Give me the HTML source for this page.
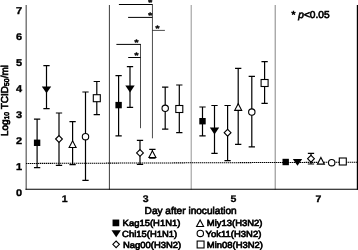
<!DOCTYPE html>
<html><head><meta charset="utf-8"><title>Figure</title>
<style>
html,body{margin:0;padding:0;background:#fff;}
body{width:358px;height:250px;overflow:hidden;}
svg{display:block;}
text{font-family:"Liberation Sans",sans-serif;fill:#000;text-rendering:geometricPrecision;}
</style></head><body>
<svg width="358" height="250" viewBox="0 0 358 250">
<rect width="358" height="250" fill="#fff"/>

<g stroke-linecap="butt" fill="none">
<line x1="26.2" y1="5" x2="26.2" y2="189.7" stroke="#666" stroke-width="1.3"/>
<line x1="109.4" y1="5" x2="109.4" y2="189.7" stroke="#333" stroke-width="0.95"/>
<line x1="191.2" y1="5" x2="191.2" y2="189.7" stroke="#888" stroke-width="0.9"/>
<line x1="275.2" y1="5" x2="275.2" y2="189.7" stroke="#777" stroke-width="0.9"/>
<line x1="357.4" y1="5" x2="357.4" y2="189.7" stroke="#000" stroke-width="1.2"/>
<line x1="25.5" y1="189.2" x2="358" y2="189.2" stroke="#000" stroke-width="1.1"/>
<line x1="26" y1="163.45" x2="358" y2="162.2" stroke="#000" stroke-width="1.05" stroke-dasharray="1.4 0.6"/>
</g>
<g stroke="#000" fill="none">
<line x1="118.9" y1="4.5" x2="152.4" y2="4.5" stroke-width="1"/>
<line x1="128.1" y1="17.4" x2="152.4" y2="17.4" stroke-width="1"/>
<line x1="116.4" y1="44.4" x2="140.8" y2="44.4" stroke-width="1"/>
<line x1="128.2" y1="57.5" x2="140.8" y2="57.5" stroke-width="1"/>
<line x1="152.4" y1="30.4" x2="164.9" y2="30.4" stroke="#000" stroke-width="0.7"/>
<line x1="152.45" y1="4.1" x2="152.45" y2="138.3" stroke="#111" stroke-width="0.75"/>
<line x1="140.5" y1="44" x2="140.5" y2="128.2" stroke="#111" stroke-width="0.75"/>
</g>
<text transform="translate(150.2 5.4) scale(1.35 1.05)" font-size="7.5" font-weight="bold" text-anchor="middle" stroke="#000" stroke-width="0.4">*</text>
<text transform="translate(150.2 18) scale(1.35 1.05)" font-size="7.5" font-weight="bold" text-anchor="middle" stroke="#000" stroke-width="0.4">*</text>
<text transform="translate(157.5 30.6) scale(1.35 1.05)" font-size="7.5" font-weight="bold" text-anchor="middle" stroke="#000" stroke-width="0.4">*</text>
<text transform="translate(136.5 44.8) scale(1.35 1.05)" font-size="7.5" font-weight="bold" text-anchor="middle" stroke="#000" stroke-width="0.4">*</text>
<text transform="translate(136.5 58) scale(1.35 1.05)" font-size="7.5" font-weight="bold" text-anchor="middle" stroke="#000" stroke-width="0.4">*</text>
<path d="M37.1 119.1V167.7M33.95 119.1H40.25M33.95 167.7H40.25" stroke="#000" stroke-width="1.2" fill="none"/>
<rect x="33.9" y="139.6" width="6.4" height="6.4" fill="#000"/>
<path d="M46.5 65.6V108.7M43.35 65.6H49.65M43.35 108.7H49.65" stroke="#000" stroke-width="1.2" fill="none"/>
<path d="M41.8 86.5H51.2L46.5 93.3Z" fill="#000"/>
<path d="M59 113V165.4M55.85 113H62.15M55.85 165.4H62.15" stroke="#000" stroke-width="1.2" fill="none"/>
<path d="M55.6 139L59 135.6L62.4 139L59 142.4Z" fill="#fff" stroke="#000" stroke-width="1.1"/>
<path d="M72.6 121.6V164.7M69.45 121.6H75.75M69.45 164.7H75.75" stroke="#000" stroke-width="1.2" fill="none"/>
<path d="M69.1 147.55H76.1L72.6 140.85Z" fill="#fff" stroke="#000" stroke-width="1.1" stroke-linejoin="miter"/>
<path d="M85.5 92V180.3M82.35 92H88.65M82.35 180.3H88.65" stroke="#000" stroke-width="1.2" fill="none"/>
<circle cx="85.5" cy="136.7" r="3.2" fill="#fff" stroke="#000" stroke-width="1.1"/>
<path d="M96.8 81.5V114.6M93.65 81.5H99.95M93.65 114.6H99.95" stroke="#000" stroke-width="1.2" fill="none"/>
<rect x="93.3" y="94.7" width="7" height="7" fill="#fff" stroke="#000" stroke-width="1.1"/>
<path d="M118.6 75.7V135.8M115.45 75.7H121.75M115.45 135.8H121.75" stroke="#000" stroke-width="1.2" fill="none"/>
<rect x="115.4" y="101.9" width="6.4" height="6.4" fill="#000"/>
<path d="M130 66.6V107.4M126.85 66.6H133.15M126.85 107.4H133.15" stroke="#000" stroke-width="1.2" fill="none"/>
<path d="M125.3 85.6H134.7L130 92.4Z" fill="#000"/>
<path d="M140 140.3V164.4M136.85 140.3H143.15M136.85 164.4H143.15" stroke="#000" stroke-width="1.2" fill="none"/>
<path d="M136.6 152.9L140 149.5L143.4 152.9L140 156.3Z" fill="#fff" stroke="#000" stroke-width="1.1"/>
<path d="M152.4 149.3V158.1M149.25 149.3H155.55M149.25 158.1H155.55" stroke="#000" stroke-width="1.2" fill="none"/>
<path d="M148.9 157.55H155.9L152.4 150.85Z" fill="#fff" stroke="#000" stroke-width="1.1" stroke-linejoin="miter"/>
<path d="M165.2 87.2V129.2M162.05 87.2H168.35M162.05 129.2H168.35" stroke="#000" stroke-width="1.2" fill="none"/>
<circle cx="165.2" cy="108.3" r="3.2" fill="#fff" stroke="#000" stroke-width="1.1"/>
<path d="M179.3 85V132.7M176.15 85H182.45M176.15 132.7H182.45" stroke="#000" stroke-width="1.2" fill="none"/>
<rect x="175.8" y="105.5" width="7" height="7" fill="#fff" stroke="#000" stroke-width="1.1"/>
<path d="M202.5 107V135.8M199.35 107H205.65M199.35 135.8H205.65" stroke="#000" stroke-width="1.2" fill="none"/>
<rect x="199.3" y="118" width="6.4" height="6.4" fill="#000"/>
<path d="M214.5 105.5V153.4M211.35 105.5H217.65M211.35 153.4H217.65" stroke="#000" stroke-width="1.2" fill="none"/>
<path d="M209.8 127.6H219.2L214.5 134.4Z" fill="#000"/>
<path d="M227.6 105.5V160.7M224.45 105.5H230.75M224.45 160.7H230.75" stroke="#000" stroke-width="1.2" fill="none"/>
<path d="M224.2 132.7L227.6 129.3L231 132.7L227.6 136.1Z" fill="#fff" stroke="#000" stroke-width="1.1"/>
<path d="M238.2 68.4V144.3M235.05 68.4H241.35M235.05 144.3H241.35" stroke="#000" stroke-width="1.2" fill="none"/>
<path d="M234.7 110.35H241.7L238.2 103.65Z" fill="#fff" stroke="#000" stroke-width="1.1" stroke-linejoin="miter"/>
<path d="M251.8 76.4V146.9M248.65 76.4H254.95M248.65 146.9H254.95" stroke="#000" stroke-width="1.2" fill="none"/>
<circle cx="251.8" cy="112.1" r="3.2" fill="#fff" stroke="#000" stroke-width="1.1"/>
<path d="M264.6 61.6V103.4M261.45 61.6H267.75M261.45 103.4H267.75" stroke="#000" stroke-width="1.2" fill="none"/>
<rect x="261.1" y="79.5" width="7" height="7" fill="#fff" stroke="#000" stroke-width="1.1"/>
<rect x="282.5" y="158.8" width="6.4" height="6.4" fill="#000"/>
<path d="M292.8 159H302.2L297.5 165.8Z" fill="#000"/>
<path d="M311 153.4V164M307.85 153.4H314.15M307.85 164H314.15" stroke="#000" stroke-width="1.2" fill="none"/>
<path d="M307.6 158.7L311 155.3L314.4 158.7L311 162.1Z" fill="#fff" stroke="#000" stroke-width="1.1"/>
<path d="M317.4 164.15H324.4L320.9 157.45Z" fill="#fff" stroke="#000" stroke-width="1.1" stroke-linejoin="miter"/>
<circle cx="331.7" cy="162.7" r="3.2" fill="#fff" stroke="#000" stroke-width="1.1"/>
<rect x="339.3" y="158" width="7" height="7" fill="#fff" stroke="#000" stroke-width="1.1"/>
<text transform="translate(22.2 196.25) scale(1.12 1)" font-size="9.8" font-weight="bold" text-anchor="end" stroke="#000" stroke-width="0.35">0</text>
<text transform="translate(22.2 170.18) scale(1.12 1)" font-size="9.8" font-weight="bold" text-anchor="end" stroke="#000" stroke-width="0.35">1</text>
<text transform="translate(22.2 144.11) scale(1.12 1)" font-size="9.8" font-weight="bold" text-anchor="end" stroke="#000" stroke-width="0.35">2</text>
<text transform="translate(22.2 118.04) scale(1.12 1)" font-size="9.8" font-weight="bold" text-anchor="end" stroke="#000" stroke-width="0.35">3</text>
<text transform="translate(22.2 91.97) scale(1.12 1)" font-size="9.8" font-weight="bold" text-anchor="end" stroke="#000" stroke-width="0.35">4</text>
<text transform="translate(22.2 65.9) scale(1.12 1)" font-size="9.8" font-weight="bold" text-anchor="end" stroke="#000" stroke-width="0.35">5</text>
<text transform="translate(22.2 39.83) scale(1.12 1)" font-size="9.8" font-weight="bold" text-anchor="end" stroke="#000" stroke-width="0.35">6</text>
<text transform="translate(22.2 13.76) scale(1.12 1)" font-size="9.8" font-weight="bold" text-anchor="end" stroke="#000" stroke-width="0.35">7</text>
<text transform="translate(64.6 201.9) scale(1.1 1)" font-size="9.6" font-weight="bold" text-anchor="middle" stroke="#000" stroke-width="0.3">1</text>
<text transform="translate(145.6 201.9) scale(1.1 1)" font-size="9.6" font-weight="bold" text-anchor="middle" stroke="#000" stroke-width="0.3">3</text>
<text transform="translate(233.4 201.9) scale(1.1 1)" font-size="9.6" font-weight="bold" text-anchor="middle" stroke="#000" stroke-width="0.3">5</text>
<text transform="translate(318.4 201.9) scale(1.1 1)" font-size="9.6" font-weight="bold" text-anchor="middle" stroke="#000" stroke-width="0.3">7</text>
<text transform="translate(144.6 214) scale(1.01 1)" font-size="10" stroke="#000" stroke-width="0.65">Day after inoculation</text>
<text transform="translate(291.4 18.1) scale(1.02 1)" font-size="10" stroke="#000" stroke-width="0.65">* <tspan font-style="italic">p</tspan>&lt;0.05</text>
<text transform="translate(7.8 136.1) rotate(-90)" font-size="10" stroke="#000" stroke-width="0.65">Log<tspan font-size="6.8" dy="1.6">10</tspan><tspan dy="-1.6"> TCID</tspan><tspan font-size="6.8" dy="1.6">50</tspan><tspan dy="-1.6">/ml</tspan></text>
<rect x="112.55" y="219.55" width="6.7" height="6.7" fill="#000"/>
<path d="M111.5 230.2H120.9L116.2 237.2Z" fill="#000"/>
<path d="M112.8 244.3L116.1 241L119.4 244.3L116.1 247.6Z" fill="#fff" stroke="#000" stroke-width="1.1"/>
<path d="M196.6 226.5H203.6L200.1 219.9Z" fill="#fff" stroke="#000" stroke-width="1.1" stroke-linejoin="miter"/>
<circle cx="200.3" cy="233.4" r="3.2" fill="#fff" stroke="#000" stroke-width="1.1"/>
<rect x="197.15" y="241.05" width="6.9" height="6.9" fill="#fff" stroke="#000" stroke-width="1.1"/>
<text transform="translate(122.6 226) scale(1.065 1)" font-size="8.9" stroke="#000" stroke-width="0.65">Kag15(H1N1)</text>
<text transform="translate(122.1 236.9) scale(1.065 1)" font-size="8.9" stroke="#000" stroke-width="0.65">Chi15(H1N1)</text>
<text transform="translate(122.9 247.9) scale(1.065 1)" font-size="8.9" stroke="#000" stroke-width="0.65">Nag00(H3N2)</text>
<text transform="translate(206.8 226) scale(1.065 1)" font-size="8.9" stroke="#000" stroke-width="0.65">Miy13(H3N2)</text>
<text transform="translate(205.6 236.9) scale(1.065 1)" font-size="8.9" stroke="#000" stroke-width="0.65">Yok11(H3N2)</text>
<text transform="translate(206.8 247.9) scale(1.065 1)" font-size="8.9" stroke="#000" stroke-width="0.65">Min08(H3N2)</text>
</svg></body></html>
